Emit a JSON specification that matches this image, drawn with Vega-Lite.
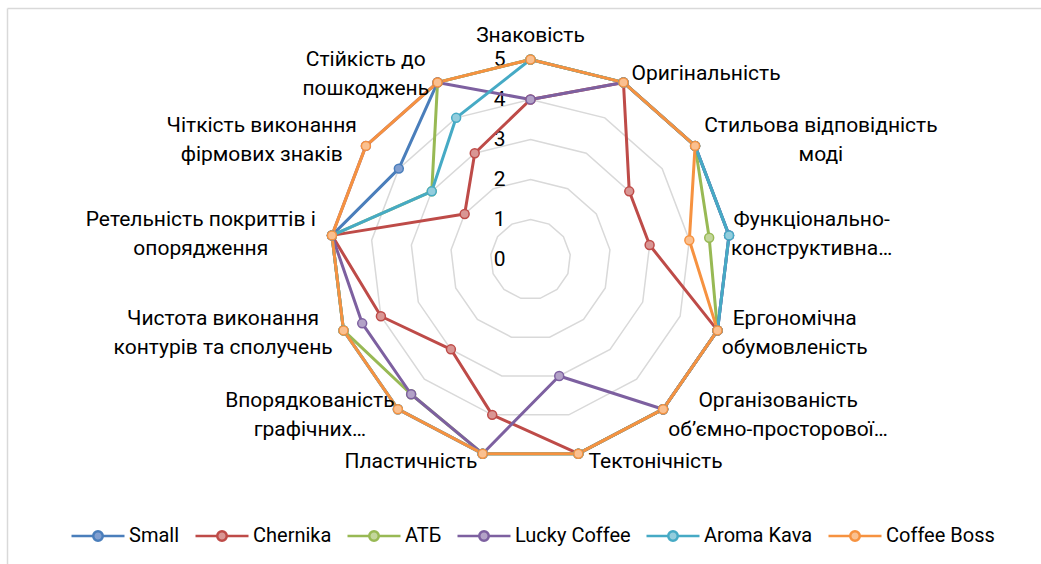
{
  "$schema": "https://vega.github.io/schema/vega-lite/v6.json",
  "width": 1034,
  "height": 556,
  "autosize": {"type": "none"},
  "padding": {"left": 7, "top": 8, "right": 0, "bottom": 0},
  "background": "white",
  "config": {
    "view": {"stroke": null},
    "font": "Roboto",
    "axis": {"domainColor": "#D9D9D9", "domainWidth": 1.5, "ticks": false, "labels": false, "grid": false, "title": null}
  },
  "datasets": {
    "grid": [
      {"r":1,"i":0},{"r":1,"i":1},{"r":1,"i":2},{"r":1,"i":3},{"r":1,"i":4},{"r":1,"i":5},{"r":1,"i":6},{"r":1,"i":7},{"r":1,"i":8},{"r":1,"i":9},{"r":1,"i":10},{"r":1,"i":11},{"r":1,"i":12},
      {"r":2,"i":0},{"r":2,"i":1},{"r":2,"i":2},{"r":2,"i":3},{"r":2,"i":4},{"r":2,"i":5},{"r":2,"i":6},{"r":2,"i":7},{"r":2,"i":8},{"r":2,"i":9},{"r":2,"i":10},{"r":2,"i":11},{"r":2,"i":12},
      {"r":3,"i":0},{"r":3,"i":1},{"r":3,"i":2},{"r":3,"i":3},{"r":3,"i":4},{"r":3,"i":5},{"r":3,"i":6},{"r":3,"i":7},{"r":3,"i":8},{"r":3,"i":9},{"r":3,"i":10},{"r":3,"i":11},{"r":3,"i":12},
      {"r":4,"i":0},{"r":4,"i":1},{"r":4,"i":2},{"r":4,"i":3},{"r":4,"i":4},{"r":4,"i":5},{"r":4,"i":6},{"r":4,"i":7},{"r":4,"i":8},{"r":4,"i":9},{"r":4,"i":10},{"r":4,"i":11},{"r":4,"i":12},
      {"r":5,"i":0},{"r":5,"i":1},{"r":5,"i":2},{"r":5,"i":3},{"r":5,"i":4},{"r":5,"i":5},{"r":5,"i":6},{"r":5,"i":7},{"r":5,"i":8},{"r":5,"i":9},{"r":5,"i":10},{"r":5,"i":11},{"r":5,"i":12}
    ],
    "ticks": [{"t":0},{"t":1},{"t":2},{"t":3},{"t":4},{"t":5}],
    "labels": [
      {"i":0,"label":"Знаковість"},
      {"i":1,"label":"Оригінальність"},
      {"i":2,"label":"Стильова відповідність\nмоді"},
      {"i":3,"label":"Функціонально-\nконструктивна…"},
      {"i":4,"label":"Ергономічна\nобумовленість"},
      {"i":5,"label":"Організованість\nоб’ємно-просторової…"},
      {"i":6,"label":"Тектонічність"},
      {"i":7,"label":"Пластичність"},
      {"i":8,"label":"Впорядкованість\nграфічних…"},
      {"i":9,"label":"Чистота виконання\nконтурів та сполучень"},
      {"i":10,"label":"Ретельність покриттів і\nопорядження"},
      {"i":11,"label":"Чіткість виконання\nфірмових знаків"},
      {"i":12,"label":"Стійкість до\nпошкоджень"}
    ],
    "series": [
      {"s":"Small","i":0,"v":5},{"s":"Small","i":1,"v":5},{"s":"Small","i":2,"v":5},{"s":"Small","i":3,"v":5},{"s":"Small","i":4,"v":5},{"s":"Small","i":5,"v":5},{"s":"Small","i":6,"v":5},{"s":"Small","i":7,"v":5},{"s":"Small","i":8,"v":5},{"s":"Small","i":9,"v":5},{"s":"Small","i":10,"v":5},{"s":"Small","i":11,"v":4},{"s":"Small","i":12,"v":5},
      {"s":"Chernika","i":0,"v":4},{"s":"Chernika","i":1,"v":5},{"s":"Chernika","i":2,"v":3},{"s":"Chernika","i":3,"v":3},{"s":"Chernika","i":4,"v":5},{"s":"Chernika","i":5,"v":5},{"s":"Chernika","i":6,"v":5},{"s":"Chernika","i":7,"v":4},{"s":"Chernika","i":8,"v":3},{"s":"Chernika","i":9,"v":4},{"s":"Chernika","i":10,"v":5},{"s":"Chernika","i":11,"v":2},{"s":"Chernika","i":12,"v":3},
      {"s":"АТБ","i":0,"v":5},{"s":"АТБ","i":1,"v":5},{"s":"АТБ","i":2,"v":5},{"s":"АТБ","i":3,"v":4.5},{"s":"АТБ","i":4,"v":5},{"s":"АТБ","i":5,"v":5},{"s":"АТБ","i":6,"v":5},{"s":"АТБ","i":7,"v":5},{"s":"АТБ","i":8,"v":4.5},{"s":"АТБ","i":9,"v":5},{"s":"АТБ","i":10,"v":5},{"s":"АТБ","i":11,"v":3},{"s":"АТБ","i":12,"v":5},
      {"s":"Lucky Coffee","i":0,"v":4},{"s":"Lucky Coffee","i":1,"v":5},{"s":"Lucky Coffee","i":2,"v":5},{"s":"Lucky Coffee","i":3,"v":5},{"s":"Lucky Coffee","i":4,"v":5},{"s":"Lucky Coffee","i":5,"v":5},{"s":"Lucky Coffee","i":6,"v":3},{"s":"Lucky Coffee","i":7,"v":5},{"s":"Lucky Coffee","i":8,"v":4.5},{"s":"Lucky Coffee","i":9,"v":4.5},{"s":"Lucky Coffee","i":10,"v":5},{"s":"Lucky Coffee","i":11,"v":5},{"s":"Lucky Coffee","i":12,"v":5},
      {"s":"Aroma Kava","i":0,"v":5},{"s":"Aroma Kava","i":1,"v":5},{"s":"Aroma Kava","i":2,"v":5},{"s":"Aroma Kava","i":3,"v":5},{"s":"Aroma Kava","i":4,"v":5},{"s":"Aroma Kava","i":5,"v":5},{"s":"Aroma Kava","i":6,"v":5},{"s":"Aroma Kava","i":7,"v":5},{"s":"Aroma Kava","i":8,"v":5},{"s":"Aroma Kava","i":9,"v":5},{"s":"Aroma Kava","i":10,"v":5},{"s":"Aroma Kava","i":11,"v":3},{"s":"Aroma Kava","i":12,"v":4},
      {"s":"Coffee Boss","i":0,"v":5},{"s":"Coffee Boss","i":1,"v":5},{"s":"Coffee Boss","i":2,"v":5},{"s":"Coffee Boss","i":3,"v":4},{"s":"Coffee Boss","i":4,"v":5},{"s":"Coffee Boss","i":5,"v":5},{"s":"Coffee Boss","i":6,"v":5},{"s":"Coffee Boss","i":7,"v":5},{"s":"Coffee Boss","i":8,"v":5},{"s":"Coffee Boss","i":9,"v":5},{"s":"Coffee Boss","i":10,"v":5},{"s":"Coffee Boss","i":11,"v":5},{"s":"Coffee Boss","i":12,"v":5}
    ]
  },
  "encoding": {
    "x": {"field": "x", "type": "quantitative", "scale": {"domain": [-13.0875, 12.7625], "nice": false, "zero": false}, "axis": {"orient": "top"}},
    "y": {"field": "y", "type": "quantitative", "scale": {"domain": [-7.6125, 6.2875], "nice": false, "zero": false}, "axis": {"orient": "left"}}
  },
  "layer": [
    {
      "data": {"name": "grid"},
      "transform": [
        {"calculate": "datum.i * 2 * PI / 13", "as": "a"},
        {"calculate": "datum.r * sin(datum.a)", "as": "x"},
        {"calculate": "datum.r * cos(datum.a)", "as": "y"}
      ],
      "mark": {"type": "line", "interpolate": "linear-closed", "color": "#D9D9D9", "strokeWidth": 1.5},
      "encoding": {"detail": {"field": "r", "type": "nominal"}, "order": {"field": "i", "type": "quantitative"}}
    },
    {
      "data": {"name": "ticks"},
      "transform": [
        {"calculate": "0", "as": "x"},
        {"calculate": "datum.t", "as": "y"}
      ],
      "mark": {"type": "text", "align": "right", "baseline": "middle", "dx": -25, "fontSize": 21, "font": "Roboto", "color": "#000000"},
      "encoding": {"text": {"field": "t", "type": "quantitative"}}
    },
    {
      "data": {"name": "series"},
      "transform": [
        {"calculate": "datum.i * 2 * PI / 13", "as": "a"},
        {"calculate": "datum.v * sin(datum.a)", "as": "x"},
        {"calculate": "datum.v * cos(datum.a)", "as": "y"}
      ],
      "mark": {"type": "line", "interpolate": "linear-closed", "strokeWidth": 3, "strokeJoin": "round"},
      "encoding": {
        "order": {"field": "i", "type": "quantitative"},
        "stroke": {
          "field": "s", "type": "nominal",
          "scale": {"domain": ["Small", "Chernika", "АТБ", "Lucky Coffee", "Aroma Kava", "Coffee Boss"], "range": ["#4A7EBB", "#BE4B48", "#98B954", "#7D60A0", "#46AAC5", "#F69240"]},
          "legend": {"title": null, "orient": "none", "direction": "horizontal", "legendX": 63, "legendY": 500, "symbolType": "M-1,0L-0.18,0M0.18,0L1,0M0.18,0A0.18,0.18,0,1,1,-0.18,0A0.18,0.18,0,1,1,0.18,0Z", "symbolSize": 2809, "symbolStrokeWidth": 2.5, "labelFontSize": 20, "labelFont": "Roboto", "labelColor": "#000000", "labelOffset": 3, "columnPadding": 10, "padding": 0, "labelLimit": 0}
        }
      }
    },
    {
      "data": {"name": "series"},
      "transform": [
        {"calculate": "datum.i * 2 * PI / 13", "as": "a"},
        {"calculate": "datum.v * sin(datum.a)", "as": "x"},
        {"calculate": "datum.v * cos(datum.a)", "as": "y"}
      ],
      "mark": {"type": "point", "shape": "circle", "filled": true, "size": 80, "strokeWidth": 1.5, "opacity": 1},
      "encoding": {
        "stroke": {"field": "s", "type": "nominal"},
        "fill": {
          "field": "s", "type": "nominal",
          "scale": {"domain": ["Small", "Chernika", "АТБ", "Lucky Coffee", "Aroma Kava", "Coffee Boss"], "range": ["#819FD0", "#D99694", "#C3D69B", "#B3A2C7", "#93CDDD", "#FAC090"]},
          "legend": {"title": null, "orient": "none", "direction": "horizontal", "legendX": 63, "legendY": 500, "symbolType": "M-1,0L-0.18,0M0.18,0L1,0M0.18,0A0.18,0.18,0,1,1,-0.18,0A0.18,0.18,0,1,1,0.18,0Z", "symbolSize": 2809, "symbolStrokeWidth": 2.5, "labelFontSize": 20, "labelFont": "Roboto", "labelColor": "#000000", "labelOffset": 3, "columnPadding": 10, "padding": 0, "labelLimit": 0}
        }
      }
    },
    {
      "data": {"name": "labels"},
      "transform": [
        {"calculate": "datum.i * 2 * PI / 13", "as": "a"},
        {"calculate": "max(length(split(datum.label, '\\n')[0]), length(split(datum.label, '\\n')[1] || ''))", "as": "n"},
        {"calculate": "indexof(datum.label, '\\n') >= 0 ? 2 : 1", "as": "nl"},
        {"calculate": "abs(sin(datum.a)) < 0.1 ? 0 : 5 * sin(datum.a) + (sin(datum.a) > 0 ? 1 : -1) * (7 + 5.4 * datum.n) / 40", "as": "x"},
        {"calculate": "(abs(sin(datum.a)) < 0.1 ? 5.6 : 5 * cos(datum.a) + 9 * cos(datum.a) / 40) + (datum.nl - 1) * 14.5 / 40", "as": "y"}
      ],
      "mark": {"type": "text", "align": "center", "baseline": "middle", "fontSize": 21, "font": "Roboto", "color": "#000000", "lineBreak": "\n", "lineHeight": 29},
      "encoding": {"text": {"field": "label", "type": "nominal"}}
    }
  ]
}
